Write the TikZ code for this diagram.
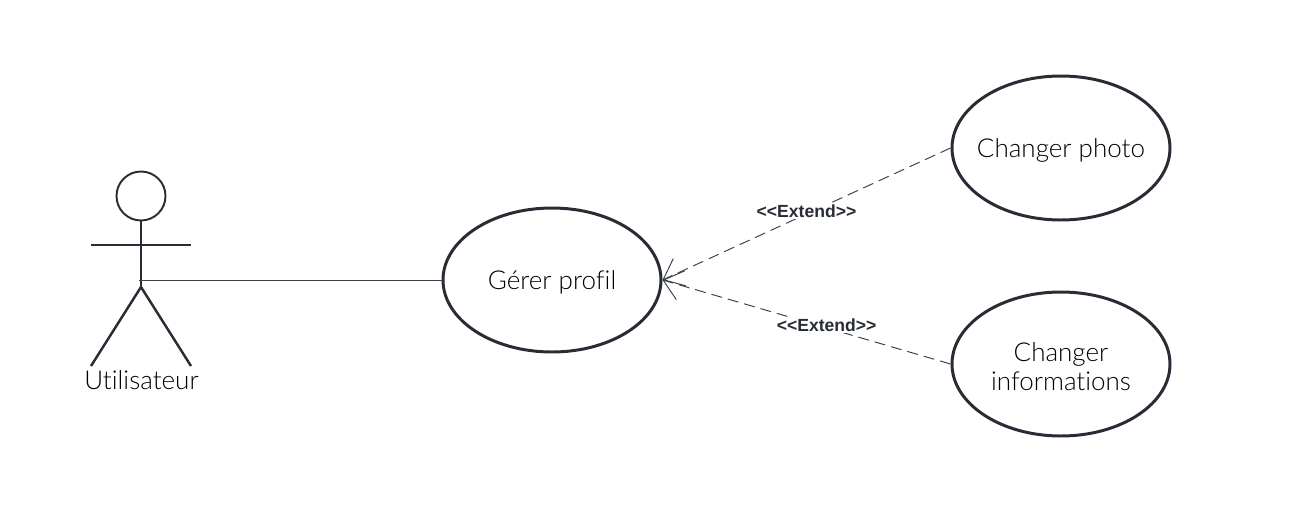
\documentclass[tikz,border=0pt]{standalone}
\usepackage{fontspec}
\setmainfont{Lato Light}[Ligatures=NoCommon]
\newfontfamily\labelfont{Liberation Sans}
\usepackage{xcolor}
\usetikzlibrary{arrows.meta,shapes.geometric}
\definecolor{inkC}{RGB}{40,44,52}
\definecolor{lineC}{RGB}{60,64,72}

\begin{document}
\begin{tikzpicture}[
  usecase/.style={ellipse,draw=inkC,line width=1.7pt,align=center,inner sep=-0.5cm,
                  font=\fontsize{14.8}{16.5}\selectfont,text=black,text depth=0pt,
                  minimum width=4.36cm,minimum height=2.88cm},
  limb/.style={draw=inkC,line width=1.4pt},
  assoc/.style={draw=lineC,line width=0.55pt},
  extend/.style={draw=lineC,line width=0.55pt,dash pattern=on 0.22cm off 0.12cm,
                 -{Straight Barb[length=0.36cm,width=0.6cm,line width=0.55pt]}},
  tag/.style={fill=white,inner sep=1pt,yshift=0.06cm,
              font=\labelfont\bfseries\fontsize{10}{12}\selectfont,text=inkC}
]
  \useasboundingbox (0,0) rectangle (26.2,10.58);

  % Use cases
  \node[usecase] (gerer) at (11.04,4.98) {Gérer profil};
  \node[usecase] (photo) at (21.22,7.62) {Changer photo};
  \node[usecase,text height=1.05cm] (infos) at (21.22,3.3) {Changer\\informations};

  % Actor
  \node[circle,draw=inkC,line width=1.1pt,minimum size=0.98cm,inner sep=0pt] (head) at (2.82,6.66) {};
  \coordinate (armL) at (1.82,5.68);
  \coordinate (armR) at (3.82,5.68);
  \coordinate (hip) at (2.82,4.84);
  \coordinate (hand) at (2.78,4.98);
  \coordinate (footL) at (1.82,3.26);
  \coordinate (footR) at (3.82,3.26);
  \draw[limb] (head) -- (hip);
  \draw[limb] (armL) -- (armR);
  \draw[limb] (footL) -- (hip) -- (footR);
  \node[font=\fontsize{14.8}{17}\selectfont,text=black] (actor) at (2.83,2.97) {Utilisateur};

  % Arrows
  \draw[assoc] (hand) -- (gerer);
  \draw[extend] (photo.west) -- (gerer.east)
    node[tag,pos=0.5] (tagA) {<{}<Extend>{}>};
  \draw[extend] (infos.west) -- (gerer.east)
    node[tag,pos=0.43] (tagB) {<{}<Extend>{}>};
\end{tikzpicture}
\end{document}
